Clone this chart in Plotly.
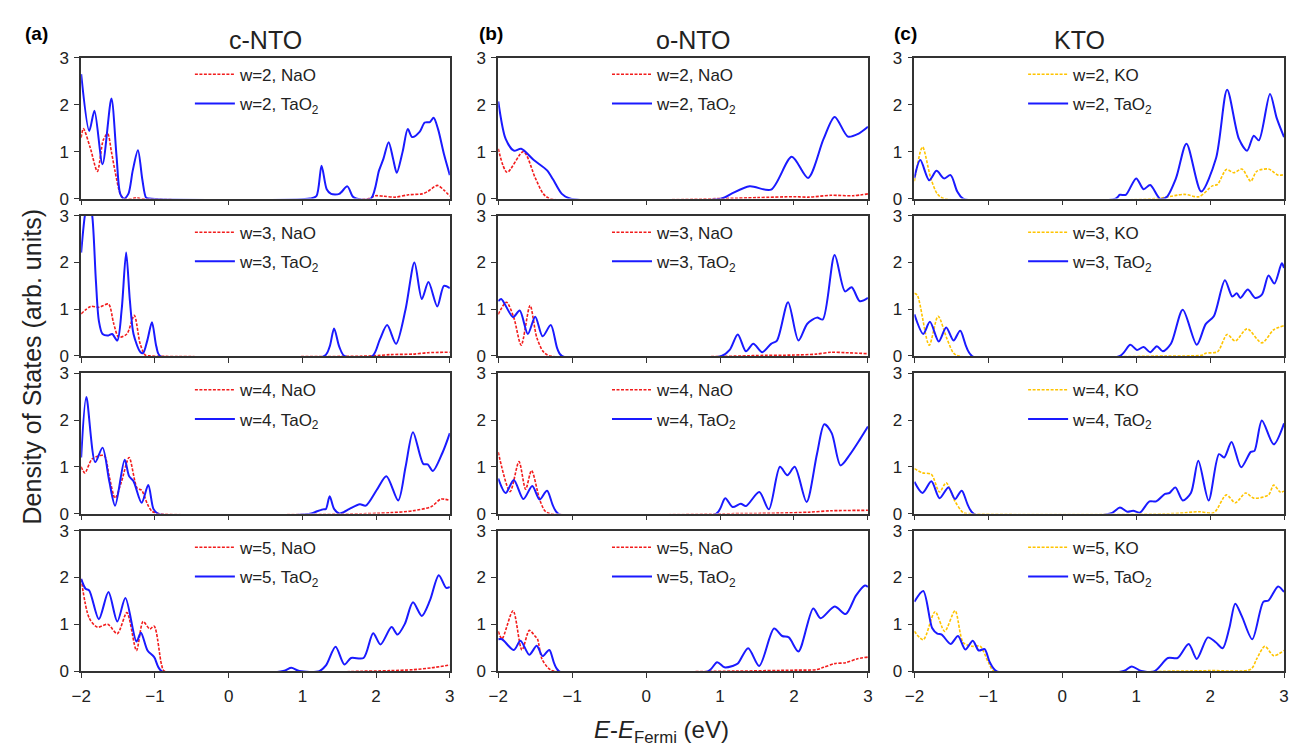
import plotly.graph_objects as go

# ---------------- data ----------------
# c-NTO
E_cNTO_w2_TaO2 = [-2, -1.89, -1.82, -1.71, -1.59, -1.52, -1.47, -1.42, -1.36, -1.3, -1.23, -1.17, -1.12, -1.08, 1.1, 1.19, 1.26, 1.33, 1.39, 1.5, 1.61, 1.68, 1.73, 1.93, 2.04, 2.1, 2.17, 2.23, 2.28, 2.36, 2.43, 2.49, 2.59, 2.66, 2.73, 2.78, 2.84, 2.92, 3]
D_cNTO_w2_TaO2 = [2.65, 1.44, 1.87, 0.73, 2.13, 0.9, 0.1, 0.0, 0.1, 0.6, 1.03, 0.4, 0.02, 0, 0, 0.05, 0.70, 0.2, 0.1, 0.1, 0.26, 0.05, 0, 0, 0.6, 0.85, 1.2, 0.85, 0.55, 1.0, 1.48, 1.31, 1.42, 1.62, 1.63, 1.72, 1.48, 0.95, 0.5]
E_cNTO_w2_NaO = [-2, -1.97, -1.88, -1.78, -1.7, -1.64, -1.59, -1.54, -1.47, -1.42, -1.3, -1.25, -1.2, 1.9, 1.99, 2.1, 2.26, 2.44, 2.62, 2.7, 2.83, 2.92, 3]
D_cNTO_w2_NaO = [1.3, 1.49, 1.1, 0.58, 1.25, 1.38, 1.0, 0.58, 0.1, 0.0, 0, 0.02, 0, 0, 0.06, 0.05, 0.03, 0.08, 0.1, 0.15, 0.28, 0.18, 0.05]

E_cNTO_w3_TaO2 = [-2, -1.95, -1.9, -1.85, -1.8, -1.76, -1.71, -1.63, -1.58, -1.51, -1.45, -1.39, -1.34, -1.29, -1.2, -1.16, -1.1, -1.04, -0.98, -0.93, 1.3, 1.37, 1.43, 1.5, 1.57, 1.95, 2.05, 2.15, 2.27, 2.4, 2.52, 2.62, 2.71, 2.83, 2.92, 3]
D_cNTO_w3_TaO2 = [2.21, 3.0, 3.4, 3.0, 1.6, 0.75, 0.47, 0.44, 0.47, 0.33, 1.0, 2.21, 1.2, 0.47, 0.09, 0.06, 0.35, 0.72, 0.2, 0, 0, 0.2, 0.59, 0.2, 0, 0, 0.35, 0.66, 0.26, 1.0, 2.0, 1.22, 1.58, 1.06, 1.5, 1.45]
E_cNTO_w3_NaO = [-2, -1.87, -1.76, -1.63, -1.56, -1.49, -1.38, -1.28, -1.2, -1.13, -1.05, 1.9, 2.2, 2.5, 2.7, 3]
D_cNTO_w3_NaO = [0.9, 1.06, 1.04, 1.11, 0.7, 0.40, 0.47, 0.87, 0.26, 0.02, 0, 0, 0.03, 0.04, 0.07, 0.08]

E_cNTO_w4_TaO2 = [-2, -1.93, -1.81, -1.71, -1.62, -1.54, -1.41, -1.35, -1.29, -1.18, -1.09, -1.02, -0.96, 1.12, 1.2, 1.28, 1.32, 1.37, 1.43, 1.5, 1.56, 1.64, 1.78, 1.86, 2.01, 2.14, 2.3, 2.4, 2.5, 2.64, 2.7, 2.77, 2.9, 3]
D_cNTO_w4_TaO2 = [1.2, 2.49, 1.1, 1.41, 0.7, 0.17, 1.15, 0.8, 0.69, 0.23, 0.61, 0.1, 0, 0, 0.05, 0.09, 0.1, 0.37, 0.1, 0, 0.03, 0.1, 0.2, 0.17, 0.51, 0.8, 0.28, 1.0, 1.74, 1.06, 1.05, 0.91, 1.3, 1.72]
E_cNTO_w4_NaO = [-2, -1.95, -1.85, -1.69, -1.62, -1.54, -1.45, -1.35, -1.24, -1.18, -1.1, -1.04, -0.95, 1.9, 2.2, 2.5, 2.75, 2.88, 3]
D_cNTO_w4_NaO = [1.0, 0.87, 1.17, 1.24, 0.8, 0.33, 0.7, 1.2, 0.54, 0.5, 0.2, 0.05, 0, 0, 0.02, 0.06, 0.15, 0.31, 0.28]

E_cNTO_w5_TaO2 = [-2, -1.94, -1.89, -1.76, -1.63, -1.51, -1.4, -1.25, -1.19, -1.1, -1.01, -0.91, 0.74, 0.85, 0.96, 1.23, 1.32, 1.45, 1.57, 1.66, 1.83, 1.96, 2.06, 2.21, 2.29, 2.39, 2.5, 2.62, 2.73, 2.85, 2.95, 3]
D_cNTO_w5_TaO2 = [1.97, 1.76, 1.72, 1.11, 1.69, 1.06, 1.56, 0.63, 0.82, 0.44, 0.3, 0, 0, 0.07, 0, 0, 0.12, 0.52, 0.14, 0.28, 0.28, 0.81, 0.57, 0.94, 0.78, 1.01, 1.47, 1.18, 1.51, 2.05, 1.78, 1.8]
E_cNTO_w5_NaO = [-2, -1.89, -1.78, -1.64, -1.51, -1.38, -1.25, -1.16, -1.07, -1.01, -0.91, -0.87, 1.9, 2.2, 2.5, 2.75, 3]
D_cNTO_w5_NaO = [1.97, 1.13, 0.94, 1.0, 0.8, 1.25, 0.44, 1.06, 0.9, 0.96, 0.14, 0, 0, 0.01, 0.03, 0.07, 0.13]

# o-NTO
E_oNTO_w2_TaO2 = [-2, -1.9, -1.79, -1.69, -1.52, -1.34, -1.26, -1.14, -1.03, 1.02, 1.15, 1.4, 1.69, 1.97, 2.19, 2.4, 2.55, 2.73, 2.87, 3]
D_oNTO_w2_TaO2 = [2.07, 1.27, 1.02, 1.06, 0.82, 0.6, 0.41, 0.1, 0, 0, 0.1, 0.26, 0.19, 0.89, 0.44, 1.27, 1.74, 1.32, 1.38, 1.53]
E_oNTO_w2_NaO = [-2, -1.88, -1.66, -1.5, -1.39, -1.3, 1.0, 1.5, 2.0, 2.2, 2.5, 2.8, 3]
D_oNTO_w2_NaO = [1.06, 0.56, 1.0, 0.44, 0.1, 0, 0, 0.02, 0.04, 0.03, 0.07, 0.06, 0.1]

E_oNTO_w3_TaO2 = [-2, -1.96, -1.8, -1.71, -1.6, -1.5, -1.4, -1.29, -1.2, -1.14, 1.02, 1.13, 1.24, 1.35, 1.45, 1.57, 1.69, 1.77, 1.92, 2.06, 2.18, 2.31, 2.39, 2.55, 2.69, 2.78, 2.89, 3]
D_oNTO_w3_TaO2 = [1.17, 1.22, 0.83, 0.97, 0.47, 0.84, 0.42, 0.66, 0.15, 0, 0, 0.13, 0.46, 0.1, 0.26, 0.08, 0.26, 0.33, 1.15, 0.33, 0.69, 0.82, 0.78, 2.16, 1.38, 1.47, 1.17, 1.24]
E_oNTO_w3_NaO = [-2, -1.89, -1.79, -1.69, -1.57, -1.48, -1.39, -1.3, 1.3, 1.5, 2.0, 2.3, 2.5, 2.7, 3]
D_oNTO_w3_NaO = [0.89, 1.15, 0.82, 0.23, 1.08, 0.4, 0.09, 0, 0, 0.01, 0.02, 0.04, 0.08, 0.07, 0.05]

E_oNTO_w4_TaO2 = [-2, -1.9, -1.79, -1.66, -1.54, -1.44, -1.34, -1.19, 0.95, 1.07, 1.17, 1.28, 1.35, 1.53, 1.66, 1.81, 1.91, 2.01, 2.17, 2.31, 2.41, 2.51, 2.63, 2.76, 2.89, 3]
D_oNTO_w4_TaO2 = [0.75, 0.44, 0.72, 0.31, 0.59, 0.3, 0.49, 0, 0, 0.33, 0.14, 0.21, 0.16, 0.46, 0.09, 1.0, 0.82, 1.0, 0.25, 1.27, 1.91, 1.72, 1.03, 1.27, 1.58, 1.86]
E_oNTO_w4_NaO = [-2, -1.84, -1.72, -1.63, -1.55, -1.44, -1.37, -1.3, 1.3, 1.8, 2.2, 2.5, 3]
D_oNTO_w4_NaO = [1.31, 0.47, 1.11, 0.52, 0.92, 0.3, 0.06, 0, 0, 0.01, 0.03, 0.06, 0.07]

E_oNTO_w5_TaO2 = [-2, -1.95, -1.79, -1.7, -1.58, -1.48, -1.4, -1.31, -1.18, 0.84, 0.96, 1.06, 1.17, 1.24, 1.38, 1.53, 1.73, 1.84, 1.93, 2.06, 2.26, 2.36, 2.55, 2.7, 2.84, 2.96, 3]
D_oNTO_w5_TaO2 = [0.68, 0.68, 0.45, 0.65, 0.35, 0.54, 0.32, 0.45, 0, 0, 0.19, 0.08, 0.11, 0.16, 0.49, 0.11, 0.91, 0.75, 0.72, 0.42, 1.34, 1.13, 1.38, 1.22, 1.62, 1.83, 1.8]
E_oNTO_w5_NaO = [-2, -1.95, -1.8, -1.68, -1.58, -1.5, -1.47, -1.41, -1.32, -1.25, 1.2, 2.0, 2.3, 2.4, 2.55, 2.7, 2.85, 3]
D_oNTO_w5_NaO = [0.85, 0.69, 1.29, 0.45, 0.87, 0.74, 0.69, 0.26, 0.06, 0, 0, 0.02, 0.03, 0.08, 0.16, 0.18, 0.26, 0.3]

# KTO
E_KTO_w2_TaO2 = [-2, -1.92, -1.8, -1.7, -1.6, -1.51, -1.42, -1.34, 0.72, 0.78, 0.86, 1.0, 1.1, 1.19, 1.32, 1.41, 1.54, 1.68, 1.88, 2.08, 2.23, 2.39, 2.5, 2.59, 2.66, 2.81, 2.9, 3]
D_KTO_w2_TaO2 = [0.44, 0.82, 0.39, 0.59, 0.43, 0.5, 0.15, 0, 0, 0.08, 0.08, 0.43, 0.2, 0.29, 0, 0.03, 0.44, 1.17, 0.15, 0.86, 2.32, 1.27, 1.02, 1.34, 1.24, 2.23, 1.72, 1.31]
E_KTO_w2_KO = [-2, -1.89, -1.78, -1.69, -1.6, 1.27, 1.65, 1.85, 2.03, 2.1, 2.22, 2.32, 2.43, 2.55, 2.63, 2.79, 2.92, 3]
D_KTO_w2_KO = [0.37, 1.1, 0.44, 0.1, 0, 0, 0.09, 0.04, 0.27, 0.3, 0.62, 0.55, 0.63, 0.37, 0.58, 0.63, 0.5, 0.51]

E_KTO_w3_TaO2 = [-2, -1.88, -1.79, -1.67, -1.57, -1.47, -1.38, -1.22, 0.78, 0.92, 1.01, 1.1, 1.19, 1.28, 1.36, 1.47, 1.63, 1.82, 1.94, 2.05, 2.2, 2.3, 2.36, 2.41, 2.51, 2.61, 2.7, 2.79, 2.87, 2.97, 3]
D_KTO_w3_TaO2 = [0.89, 0.47, 0.73, 0.31, 0.61, 0.33, 0.54, 0, 0, 0.24, 0.13, 0.19, 0.08, 0.21, 0.1, 0.26, 0.99, 0.24, 0.68, 0.85, 1.62, 1.27, 1.34, 1.24, 1.42, 1.24, 1.31, 1.72, 1.55, 1.98, 1.88]
E_KTO_w3_KO = [-2, -1.96, -1.8, -1.68, -1.56, -1.47, -1.4, 1.4, 1.9, 1.94, 2.1, 2.23, 2.34, 2.5, 2.7, 2.86, 3]
D_KTO_w3_KO = [1.34, 1.3, 0.23, 0.85, 0.37, 0.06, 0, 0, 0.02, 0.06, 0.09, 0.46, 0.32, 0.58, 0.28, 0.56, 0.65]

E_KTO_w4_TaO2 = [-2, -1.89, -1.77, -1.66, -1.54, -1.45, -1.36, -1.2, 0.65, 0.78, 0.88, 0.96, 1.05, 1.18, 1.27, 1.39, 1.45, 1.53, 1.63, 1.74, 1.84, 1.98, 2.12, 2.19, 2.29, 2.42, 2.55, 2.6, 2.7, 2.86, 3]
D_KTO_w4_TaO2 = [0.68, 0.44, 0.69, 0.33, 0.56, 0.31, 0.49, 0, 0, 0.13, 0.04, 0.06, 0.02, 0.26, 0.26, 0.42, 0.44, 0.56, 0.28, 0.44, 1.13, 0.28, 1.27, 1.2, 1.53, 0.99, 1.32, 1.34, 1.99, 1.48, 1.93]
E_KTO_w4_KO = [-2, -1.89, -1.77, -1.66, -1.57, -1.45, -1.34, -1.28, 1.5, 1.85, 2.05, 2.22, 2.34, 2.48, 2.59, 2.79, 2.86, 2.95, 3]
D_KTO_w4_KO = [0.96, 0.87, 0.84, 0.46, 0.66, 0.26, 0.02, 0, 0, 0.04, 0.02, 0.4, 0.23, 0.44, 0.33, 0.4, 0.61, 0.46, 0.48]

E_KTO_w5_TaO2 = [-2, -1.88, -1.76, -1.69, -1.63, -1.51, -1.41, -1.31, -1.21, -1.13, -1.05, -0.98, -0.89, 0.83, 0.94, 1.07, 1.25, 1.43, 1.56, 1.71, 1.82, 1.97, 2.08, 2.17, 2.26, 2.34, 2.43, 2.57, 2.72, 2.79, 2.92, 3]
D_KTO_w5_TaO2 = [1.48, 1.71, 0.92, 0.8, 0.78, 0.58, 0.75, 0.46, 0.65, 0.44, 0.47, 0.19, 0, 0, 0.1, 0, 0, 0.28, 0.28, 0.58, 0.26, 0.72, 0.61, 0.49, 0.92, 1.44, 1.17, 0.68, 1.48, 1.51, 1.81, 1.69]
E_KTO_w5_KO = [-2, -1.88, -1.72, -1.59, -1.45, -1.34, -1.22, -1.11, -1.0, -0.92, 1.5, 2.0, 2.55, 2.63, 2.74, 2.86, 3]
D_KTO_w5_KO = [0.85, 0.67, 1.27, 0.85, 1.29, 0.61, 0.53, 0.53, 0.19, 0, 0, 0.01, 0.04, 0.26, 0.53, 0.33, 0.44]

materials = ["c-NTO", "o-NTO", "KTO"]
panel_letters = ["(a)", "(b)", "(c)"]
w_values = [2, 3, 4, 5]
x_ticks = [-2, -1, 0, 1, 2, 3]
y_ticks = [0, 1, 2, 3]

series = {
    ("c-NTO", 2): ("NaO", E_cNTO_w2_NaO, D_cNTO_w2_NaO, E_cNTO_w2_TaO2, D_cNTO_w2_TaO2),
    ("c-NTO", 3): ("NaO", E_cNTO_w3_NaO, D_cNTO_w3_NaO, E_cNTO_w3_TaO2, D_cNTO_w3_TaO2),
    ("c-NTO", 4): ("NaO", E_cNTO_w4_NaO, D_cNTO_w4_NaO, E_cNTO_w4_TaO2, D_cNTO_w4_TaO2),
    ("c-NTO", 5): ("NaO", E_cNTO_w5_NaO, D_cNTO_w5_NaO, E_cNTO_w5_TaO2, D_cNTO_w5_TaO2),
    ("o-NTO", 2): ("NaO", E_oNTO_w2_NaO, D_oNTO_w2_NaO, E_oNTO_w2_TaO2, D_oNTO_w2_TaO2),
    ("o-NTO", 3): ("NaO", E_oNTO_w3_NaO, D_oNTO_w3_NaO, E_oNTO_w3_TaO2, D_oNTO_w3_TaO2),
    ("o-NTO", 4): ("NaO", E_oNTO_w4_NaO, D_oNTO_w4_NaO, E_oNTO_w4_TaO2, D_oNTO_w4_TaO2),
    ("o-NTO", 5): ("NaO", E_oNTO_w5_NaO, D_oNTO_w5_NaO, E_oNTO_w5_TaO2, D_oNTO_w5_TaO2),
    ("KTO", 2): ("KO", E_KTO_w2_KO, D_KTO_w2_KO, E_KTO_w2_TaO2, D_KTO_w2_TaO2),
    ("KTO", 3): ("KO", E_KTO_w3_KO, D_KTO_w3_KO, E_KTO_w3_TaO2, D_KTO_w3_TaO2),
    ("KTO", 4): ("KO", E_KTO_w4_KO, D_KTO_w4_KO, E_KTO_w4_TaO2, D_KTO_w4_TaO2),
    ("KTO", 5): ("KO", E_KTO_w5_KO, D_KTO_w5_KO, E_KTO_w5_TaO2, D_KTO_w5_TaO2),
}

# ---------------- layout geometry (pixels) ----------------
W, H = 1293, 750
col_px = [(72, 445), (494, 868), (915, 1289)]
row_px = [(50, 194.5), (212, 356), (373.7, 517.7), (535.3, 679.3)]
FONT = "Liberation Sans, Arial, sans-serif"
AX = "#333333"
TXT = "#222222"
RED = "#f21c1c"
BLUE = "#1a1aff"
GOLD = "#ffc400"

fig = go.Figure()
layout = dict(
    width=W, height=H, margin=dict(l=0, r=0, t=0, b=0),
    paper_bgcolor="white", plot_bgcolor="white",
    font=dict(family=FONT, color=TXT), showlegend=True,
)

for c, mat in enumerate(materials):
    for r, w in enumerate(w_values):
        idx = r * 3 + c + 1
        xa = "x" if idx == 1 else f"x{idx}"
        ya = "y" if idx == 1 else f"y{idx}"
        lg = "legend" if idx == 1 else f"legend{idx}"
        x0, x1 = col_px[c]
        top, bot = row_px[r]
        layout[("xaxis" if idx == 1 else f"xaxis{idx}")] = dict(
            domain=[x0 / W, x1 / W], anchor=ya, range=[-2, 3],
            tickvals=x_ticks, ticks="outside", ticklen=5, tickwidth=1.3, tickcolor=AX,
            showline=True, linecolor=AX, linewidth=1.6, mirror=True,
            showgrid=False, zeroline=False, showticklabels=(r == 3),
            tickfont=dict(size=17, color=TXT, family=FONT), ticklabelstandoff=4,
        )
        layout[("yaxis" if idx == 1 else f"yaxis{idx}")] = dict(
            domain=[1 - bot / H, 1 - top / H], anchor=xa, range=[0, 3],
            tickvals=y_ticks, ticks="outside", ticklen=5, tickwidth=1.3, tickcolor=AX,
            showline=True, linecolor=AX, linewidth=1.6, mirror=True,
            showgrid=False, zeroline=False,
            tickfont=dict(size=17, color=TXT, family=FONT), ticklabelstandoff=2,
        )
        layout[lg] = dict(
            x=(x0 + 110) / W, y=1 - (top - 1) / H, xanchor="left", yanchor="top",
            bgcolor="rgba(0,0,0,0)", borderwidth=0, tracegroupgap=4,
            font=dict(size=17, color=TXT, family=FONT), itemwidth=40,
        )
        layer, ex, dy, etx, dty = series[(mat, w)]
        fig.add_trace(go.Scatter(
            x=ex, y=dy, mode="lines", name=f"w={w}, {layer}",
            line=dict(color=GOLD if layer == "KO" else RED, width=1.6, dash="3px,1.5px",
                      shape="spline", smoothing=0.8),
            xaxis=xa, yaxis=ya, legend=lg, legendgroup=f"g{idx}a",
        ))
        fig.add_trace(go.Scatter(
            x=etx, y=dty, mode="lines", name=f"w={w}, TaO<sub>2</sub>",
            line=dict(color=BLUE, width=2, shape="spline", smoothing=0.8),
            xaxis=xa, yaxis=ya, legend=lg, legendgroup=f"g{idx}b",
        ))

title_x = [259, 692, 1082]
letter_x = [27, 487, 906]
ann = []
for c in range(3):
    ann.append(dict(text=materials[c], x=title_x[c] / W, y=1 - 32 / H, xref="paper", yref="paper",
                    showarrow=False, xanchor="center", yanchor="middle",
                    font=dict(size=25, color=TXT, family=FONT)))
    ann.append(dict(text=f"<b>{panel_letters[c]}</b>", x=letter_x[c] / W, y=1 - 25 / H,
                    xref="paper", yref="paper", showarrow=False, xanchor="center", yanchor="middle",
                    font=dict(size=19, color="black", family=FONT)))
ann.append(dict(text="Density of States (arb. units)", x=22 / W, y=1 - 367 / H, xref="paper", yref="paper",
                showarrow=False, textangle=-90, xanchor="center", yanchor="middle",
                font=dict(size=25, color=TXT, family=FONT)))
ann.append(dict(text="<i>E</i>-<i>E</i><sub>Fermi</sub> (eV)", x=659 / W, y=1 - 741 / H, xref="paper", yref="paper",
                showarrow=False, xanchor="center", yanchor="middle",
                font=dict(size=24, color=TXT, family=FONT)))
layout["annotations"] = ann

fig.update_layout(**layout)
fig.write_html("out.html")
